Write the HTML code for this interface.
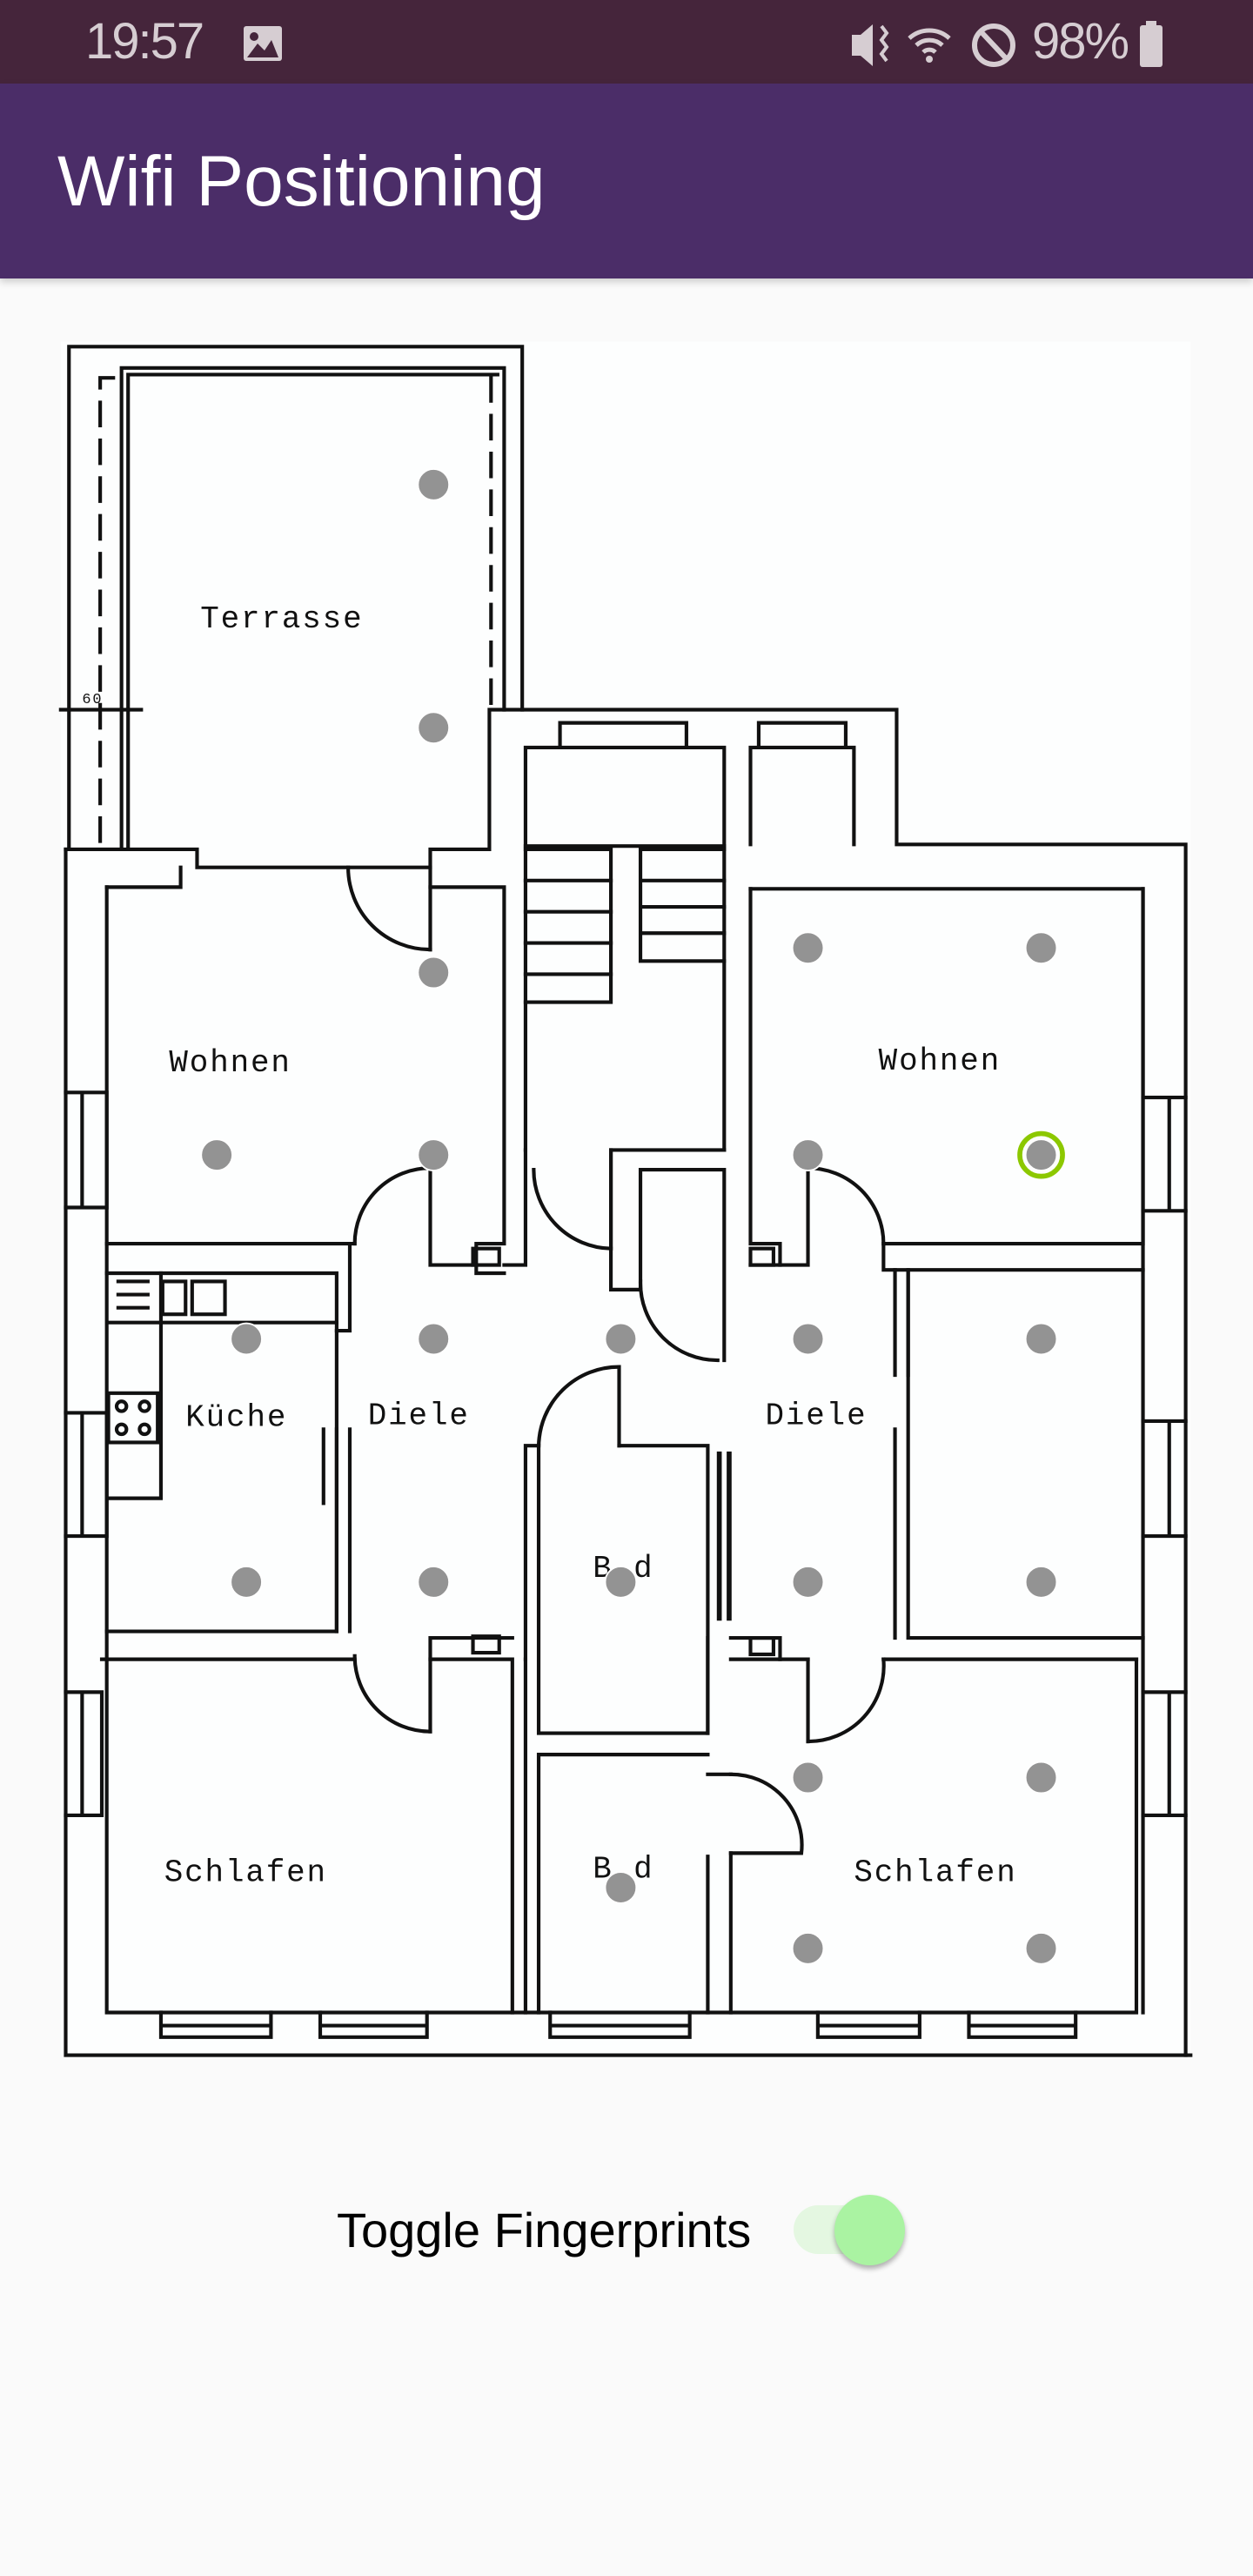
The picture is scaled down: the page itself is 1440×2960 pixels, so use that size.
<!DOCTYPE html>
<html><head><meta charset="utf-8">
<style>
html,body{margin:0;padding:0}
body{width:1440px;height:2960px;background:#fafafa;position:relative;overflow:hidden;font-family:"Liberation Sans",sans-serif}
.sb{position:absolute;left:0;top:0;width:1440px;height:96px;background:#45253b}
.ab{position:absolute;left:0;top:96px;width:1440px;height:224px;background:#4b2d68;box-shadow:0 4px 8px rgba(0,0,0,0.18)}
.t{position:absolute;color:#fff;font-size:82px;left:66px;top:162px;line-height:94px;letter-spacing:0px}
.time{position:absolute;left:98px;top:18px;font-size:58px;color:#d6cdd2;line-height:60px;letter-spacing:-2px}
.pct{position:absolute;left:1186px;top:18px;font-size:58px;color:#d6cdd2;line-height:60px;letter-spacing:-2px}
.tog{position:absolute;left:387px;top:2528px;font-size:56px;line-height:70px;color:#000}
.track{position:absolute;left:912px;top:2534px;width:118px;height:56px;border-radius:28px;background:#e4f7e1}
.thumb{position:absolute;left:959px;top:2522px;width:81px;height:81px;border-radius:50%;background:#aaf3a2;box-shadow:0 4px 6px rgba(0,0,0,0.3)}
svg.plan{position:absolute;left:0;top:0}
</style></head><body>
<div class="sb"></div>
<div class="time">19:57</div>
<svg style="position:absolute;left:278px;top:28px" width="48" height="44"><rect x="2" y="2" width="44" height="40" rx="3" fill="#d6cdd2"/><circle cx="14" cy="14" r="5" fill="#45253b"/><path d="M6 38 L18 22 L26 30 L34 18 L42 38Z" fill="#45253b"/></svg>
<svg style="position:absolute;left:975px;top:22px" width="200" height="60"><path d="M4 18h10l14-12v48l-14-12H4z" fill="#d6cdd2"/><path d="M38 8 l6 8 -6 8 6 8 -6 8 6 8" stroke="#d6cdd2" stroke-width="4" fill="none"/><path d="M70 22a34 34 0 0 1 46 0M78 30a22 22 0 0 1 30 0M86 38a10 10 0 0 1 14 0" stroke="#d6cdd2" stroke-width="5" fill="none"/><circle cx="93" cy="46" r="4" fill="#d6cdd2"/><circle cx="167" cy="30" r="22" stroke="#d6cdd2" stroke-width="6" fill="none"/><line x1="152" y1="14" x2="182" y2="46" stroke="#d6cdd2" stroke-width="6"/></svg>
<div class="pct">98%</div>
<svg style="position:absolute;left:1308px;top:24px" width="32" height="56"><rect x="9" y="0" width="12" height="6" fill="#d6cdd2"/><rect x="2" y="5" width="26" height="48" rx="3" fill="#d6cdd2"/></svg>
<div class="ab"></div>
<div class="t">Wifi Positioning</div>

<svg class="plan" width="1440" height="2960" viewBox="0 0 763 1568" preserveAspectRatio="none">
<rect x="37" y="208" width="688" height="1043" fill="#fdfefe"/>
<g stroke="#111" stroke-width="2.2" fill="none" stroke-linecap="square">
<path d="M42 517 V211 H318 V432"/>
<path d="M74 517 V224 H307 V432"/>
<path d="M78 517 V228 H303"/>
<path d="M61 512 V230 H74" stroke-dasharray="14 9"/>
<path d="M299 230 V430" stroke-dasharray="14 9"/>
<path d="M37 432 H86"/>
<path d="M40 517 H120 V528 H262 V517 H298 V432 H546 V514 H722 V1251"/>
<path d="M40 517 V1251 H725"/>
<path d="M65 540 H110 V528"/>
<path d="M65 540 V1225 H692 V1010"/>
<path d="M696 541 V1225"/>
<path d="M40 665 H65 V735 H40 M50 665 V735"/>
<path d="M40 860 H65 V935 H40 M50 860 V935"/>
<path d="M40 1030 H62 V1105 H40 M50 1030 V1105"/>
<path d="M696 668 H722 M696 737 H722 M712 668 V737"/>
<path d="M696 865 H722 M696 935 H722 M712 865 V935"/>
<path d="M696 1030 H722 M696 1105 H722 M712 1030 V1105"/>
<path d="M98 1225 V1240 H165 V1225 M98 1233 H165"/>
<path d="M195 1225 V1240 H260 V1225 M195 1233 H260"/>
<path d="M335 1225 V1240 H420 V1225 M335 1233 H420"/>
<path d="M498 1225 V1240 H560 V1225 M498 1233 H560"/>
<path d="M590 1225 V1240 H655 V1225 M590 1233 H655"/>
<path d="M65 757 H216 M262 540 H307 V757 H290 V775 H307"/>
<path d="M262 528 V578"/>
<path d="M212 528 A50 50 0 0 0 262 578"/>
<path d="M262 711 V770 H290"/>
<path d="M216 757 A46 46 0 0 1 262 711"/>
<path d="M65 775 H205 V993 H65"/>
<path d="M213 757 V810 M205 810 H213"/>
<path d="M197 870 V915"/>
<path d="M205 870 V993 M213 870 V993"/>
<path d="M66 805 H205 M98 775 V912 H66"/>
<rect x="66" y="848" width="30" height="30"/>
<circle cx="74" cy="856" r="3"/><circle cx="88" cy="856" r="3"/><circle cx="74" cy="870" r="3"/><circle cx="88" cy="870" r="3"/>
<rect x="99" y="780" width="14" height="20"/><rect x="117" y="780" width="20" height="20"/>
<path d="M72 780 H90 M72 788 H90 M72 796 H90"/>
<path d="M62 1010 H216 M262 1010 H312 V1225"/>
<path d="M216 1008 A46 46 0 0 0 262 1054"/>
<path d="M262 1054 V997 H312"/>
<path d="M320 1010 V1225"/>
<rect x="288" y="996" width="16" height="10"/>
<rect x="288" y="760" width="16" height="10"/>
<path d="M320 700 V455 H441 V700"/>
<path d="M320 515 H441"/>
<path d="M320 517 H372 V610 H320" />
<path d="M320 536 H372 M320 555 H372 M320 574 H372 M320 593 H372"/>
<path d="M390 517 H441 M390 517 V585 H441 M390 536 H441 M390 552 H441 M390 568 H441"/>
<path d="M341 455 V440 H418 V455"/>
<path d="M462 455 V440 H515 V455"/>
<path d="M457 514 V455 H520 V514"/>
<path d="M320 700 V770 H307"/>
<path d="M325 712 A48 48 0 0 0 372 760"/>
<path d="M372 760 V700 H441"/>
<path d="M372 700 V785 H390"/>
<path d="M390 712 H441 V828 M390 712 V785"/>
<path d="M390 780 A47 47 0 0 0 437 828"/>
<path d="M328 880 V1055 H431 V880 H377"/>
<path d="M320 880 H328 M320 880 V1010"/>
<path d="M328 880 A49 49 0 0 1 377 832 V880"/>
<path d="M438 885 V985 M444 885 V985" stroke-width="3"/>
<path d="M328 1068 H431 M328 1068 V1225 M431 1130 V1225"/>
<path d="M431 1080 H445 M445 1128 V1225"/>
<path d="M445 1080 A43 43 0 0 1 488 1128 H445"/>
<path d="M457 541 H696 V757 H538"/>
<path d="M457 541 V757 H475 V770 H457"/>
<path d="M492 711 V770 H475"/>
<path d="M492 711 A46 46 0 0 1 538 757"/>
<path d="M538 757 V773 H696 M553 773 V997 H696"/>
<path d="M545 773 V837 M553 773 V837"/>
<path d="M545 870 V997"/>
<rect x="457" y="760" width="14" height="10"/>
<path d="M445 1010 H492 M538 1010 H692"/>
<path d="M445 997 H475 V1010"/>
<path d="M492 1060 A46 46 0 0 0 538 1010"/>
<path d="M492 1010 V1060"/>
<rect x="457" y="997" width="14" height="10"/>
<path d="M431 997 V1055"/>
</g>
<g font-family="Liberation Mono, monospace" font-size="19" fill="#111" letter-spacing="1">
<text x="122" y="382">Terrasse</text>
<text x="103" y="652">Wohnen</text>
<text x="535" y="651">Wohnen</text>
<text x="113" y="868">Küche</text>
<text x="224" y="867">Diele</text>
<text x="466" y="867">Diele</text>
<text x="361" y="960">B_d</text>
<text x="361" y="1143">B_d</text>
<text x="100" y="1145">Schlafen</text>
<text x="520" y="1145">Schlafen</text>
<text x="50" y="428" font-size="9">60</text>
</g>
<g fill="#939393" stroke="#fff" stroke-width="1">
<circle cx="264" cy="295" r="9.5"/><circle cx="264" cy="443" r="9.5"/><circle cx="264" cy="592" r="9.5"/>
<circle cx="132" cy="703" r="9.5"/><circle cx="264" cy="703" r="9.5"/>
<circle cx="492" cy="577" r="9.5"/><circle cx="634" cy="577" r="9.5"/>
<circle cx="492" cy="703" r="9.5"/><circle cx="634" cy="703" r="9.5"/>
<circle cx="150" cy="815" r="9.5"/><circle cx="264" cy="815" r="9.5"/><circle cx="378" cy="815" r="9.5"/><circle cx="492" cy="815" r="9.5"/><circle cx="634" cy="815" r="9.5"/>
<circle cx="150" cy="963" r="9.5"/><circle cx="264" cy="963" r="9.5"/><circle cx="378" cy="963" r="9.5"/><circle cx="492" cy="963" r="9.5"/><circle cx="634" cy="963" r="9.5"/>
<circle cx="492" cy="1082" r="9.5"/><circle cx="634" cy="1082" r="9.5"/>
<circle cx="378" cy="1149" r="9.5"/>
<circle cx="492" cy="1186" r="9.5"/><circle cx="634" cy="1186" r="9.5"/>
</g>
<circle cx="634" cy="703" r="13" fill="none" stroke="#8cc800" stroke-width="3"/>
</svg>

<div class="tog">Toggle Fingerprints</div>
<div class="track"></div>
<div class="thumb"></div>
</body></html>
